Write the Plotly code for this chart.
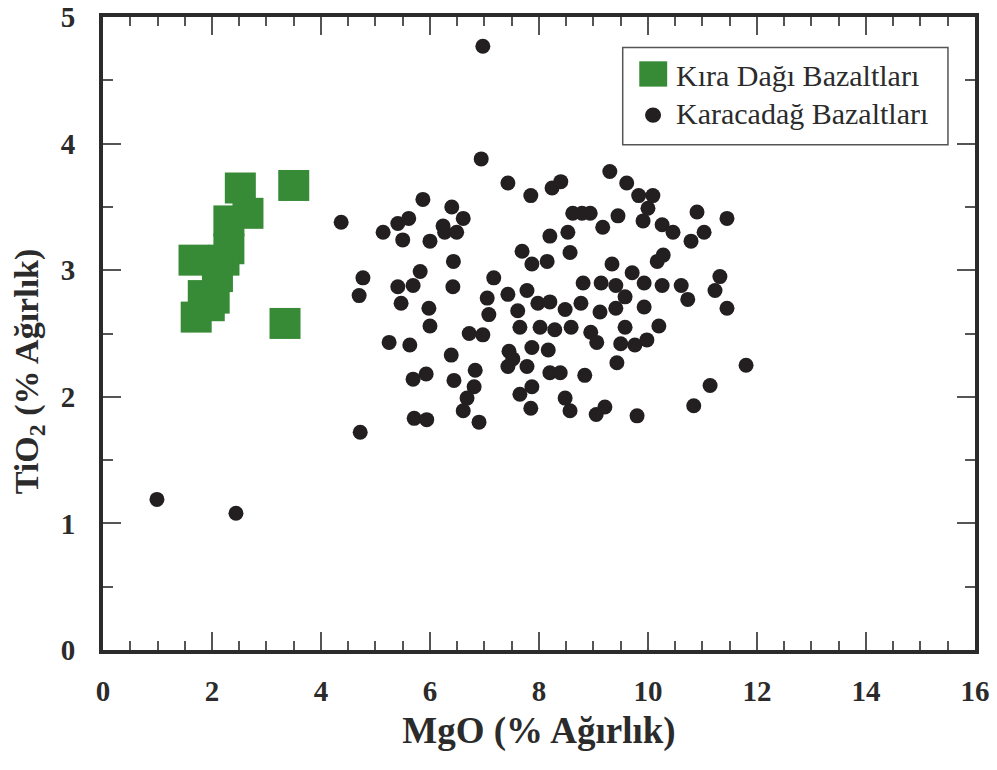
import plotly.graph_objects as go

# Kıra Dağı Bazaltları (green squares)
kira_mgo = [3.50, 3.34, 2.52, 2.66, 2.31, 2.31, 1.67, 2.22, 1.84, 2.04, 1.71, 1.95, 2.10]
kira_tio2 = [3.67, 2.58, 3.65, 3.45, 3.39, 3.17, 3.08, 3.08, 2.80, 2.78, 2.63, 2.72, 2.95]

# Karacadağ Bazaltları (black circles)
kara_mgo = [
    6.97, 0.99, 2.44,
    6.94, 7.43, 7.85, 8.24, 8.40, 5.87, 4.37, 5.14, 5.41, 5.61, 5.50, 6.00, 6.40,
    6.61, 6.24, 6.27, 6.49, 8.20, 7.69, 7.87, 8.15, 6.43, 4.77, 4.70, 5.41, 5.69,
    5.82, 5.47, 6.42, 5.98, 6.00, 7.17, 7.05, 7.08, 7.43, 7.78, 7.61, 7.98, 8.20,
    7.65, 8.02, 8.29, 6.72, 6.97, 5.25, 5.63, 6.39, 7.45, 7.52, 7.43, 7.78, 7.87,
    8.17, 8.20, 8.39, 5.69, 5.93, 6.44, 6.83, 6.81, 6.68, 6.61, 7.65, 7.87, 7.85,
    5.71, 5.94, 6.90, 4.72,
    9.30, 9.61, 9.83, 10.09, 10.00, 9.91, 8.62, 8.79, 8.94, 9.45, 9.17, 8.53, 8.57,
    10.26, 10.46, 10.79, 11.03, 10.90, 11.45, 10.17, 10.28, 9.34, 9.71, 8.81, 9.14,
    9.41, 9.93, 10.26, 10.61, 10.73, 11.32, 11.23, 11.45, 9.58, 8.77, 8.48, 9.12,
    9.41, 9.93, 8.59, 8.95, 9.06, 9.58, 10.20, 9.50, 9.76, 9.98, 9.43, 8.84, 11.80,
    11.14, 10.84, 8.48, 8.57, 9.05, 9.21, 9.80,
]
kara_tio2 = [
    4.77, 1.19, 1.08,
    3.88, 3.69, 3.59, 3.65, 3.70, 3.56, 3.38, 3.30, 3.37, 3.41, 3.24, 3.23, 3.50,
    3.41, 3.35, 3.30, 3.30, 3.27, 3.15, 3.05, 3.07, 3.07, 2.94, 2.80, 2.87, 2.88,
    2.99, 2.74, 2.87, 2.70, 2.56, 2.94, 2.78, 2.65, 2.81, 2.84, 2.68, 2.74, 2.75,
    2.55, 2.55, 2.53, 2.50, 2.49, 2.43, 2.41, 2.33, 2.36, 2.30, 2.24, 2.24, 2.39,
    2.37, 2.19, 2.19, 2.14, 2.18, 2.13, 2.21, 2.08, 1.99, 1.89, 2.02, 2.08, 1.91,
    1.83, 1.82, 1.80, 1.72,
    3.78, 3.69, 3.59, 3.59, 3.49, 3.39, 3.45, 3.45, 3.45, 3.43, 3.34, 3.30, 3.14,
    3.36, 3.30, 3.23, 3.30, 3.46, 3.41, 3.07, 3.12, 3.05, 2.98, 2.90, 2.90,
    2.88, 2.90, 2.88, 2.88, 2.77, 2.95, 2.84, 2.70, 2.79, 2.74, 2.69, 2.67,
    2.70, 2.71, 2.55, 2.51, 2.43, 2.55, 2.56, 2.42, 2.41, 2.45, 2.27, 2.17, 2.25,
    2.09, 1.93, 1.99, 1.89, 1.86, 1.92, 1.85,
]

x_ticks = [0, 2, 4, 6, 8, 10, 12, 14, 16]
y_ticks = [0, 1, 2, 3, 4, 5]
names = ["Kıra Dağı Bazaltları", "Karacadağ Bazaltları"]

GREEN = "#378a36"
BLACK = "#231f20"
AXIS = "#2b2b2b"
FONT = "Liberation Serif"

fig = go.Figure()
fig.add_trace(go.Scatter(x=kara_mgo, y=kara_tio2, mode="markers", name=names[1],
                         marker=dict(symbol="circle", size=15, color=BLACK, line=dict(width=0)),
                         showlegend=False))
fig.add_trace(go.Scatter(x=kira_mgo, y=kira_tio2, mode="markers", name=names[0],
                         marker=dict(symbol="square", size=31, color=GREEN, line=dict(width=0)),
                         showlegend=False))

axis_common = dict(
    showline=True, linecolor=AXIS, linewidth=4, mirror="allticks",
    ticks="inside", tickcolor="#555555", tickwidth=2, ticklen=18,
    showgrid=False, zeroline=False, automargin=False, ticklabeloverflow="allow",
    tickfont=dict(family=FONT, size=29, color=AXIS),
)

fig.update_xaxes(range=[0, 16.001], tickvals=x_ticks, ticktext=[f"<b>{v}</b>" for v in x_ticks],
                 minor=dict(dtick=0.5, ticks="inside", ticklen=9, tickcolor="#555555", tickwidth=2),
                 ticklabelstandoff=12,
                 title=dict(text="<b>MgO (% Ağırlık)</b>", font=dict(family=FONT, size=37, color=AXIS), standoff=12),
                 **axis_common)
fig.update_yaxes(range=[0, 5.001], tickvals=y_ticks, ticktext=[f"<b>{v}</b>" for v in y_ticks],
                 minor=dict(dtick=0.5, ticks="inside", ticklen=10, tickcolor="#555555", tickwidth=2),
                 ticklabelstandoff=18,
                 **axis_common)

# y-axis title
fig.add_annotation(text="<b>TiO<sub>2</sub> (% Ağırlık)</b>", xref="paper", yref="paper",
                   x=-0.084, y=0.44, xanchor="center", yanchor="middle", textangle=-90,
                   showarrow=False, font=dict(family=FONT, size=34, color=AXIS))

# custom legend
fig.add_shape(type="rect", xref="paper", yref="paper", x0=0.596, x1=0.969, y0=0.798, y1=0.952,
              line=dict(color="#555555", width=1.5), fillcolor="white")
fig.add_shape(type="rect", xref="paper", yref="paper", x0=0.615, x1=0.647, y0=0.890, y1=0.930,
              line=dict(width=0), fillcolor=GREEN)
fig.add_shape(type="circle", xref="paper", yref="paper", x0=0.6216, x1=0.640, y0=0.833, y1=0.857,
              line=dict(width=0), fillcolor=BLACK)
fig.add_annotation(text=names[0], xref="paper", yref="paper", x=0.655, y=0.907,
                   xanchor="left", yanchor="middle", showarrow=False,
                   font=dict(family=FONT, size=30, color=AXIS))
fig.add_annotation(text=names[1], xref="paper", yref="paper", x=0.655, y=0.847,
                   xanchor="left", yanchor="middle", showarrow=False,
                   font=dict(family=FONT, size=30, color=AXIS))

fig.update_layout(
    width=997, height=770,
    margin=dict(l=103, r=22, t=17, b=120, autoexpand=False),
    plot_bgcolor="white", paper_bgcolor="white",
    showlegend=False,
)

fig.write_html("out.html")
